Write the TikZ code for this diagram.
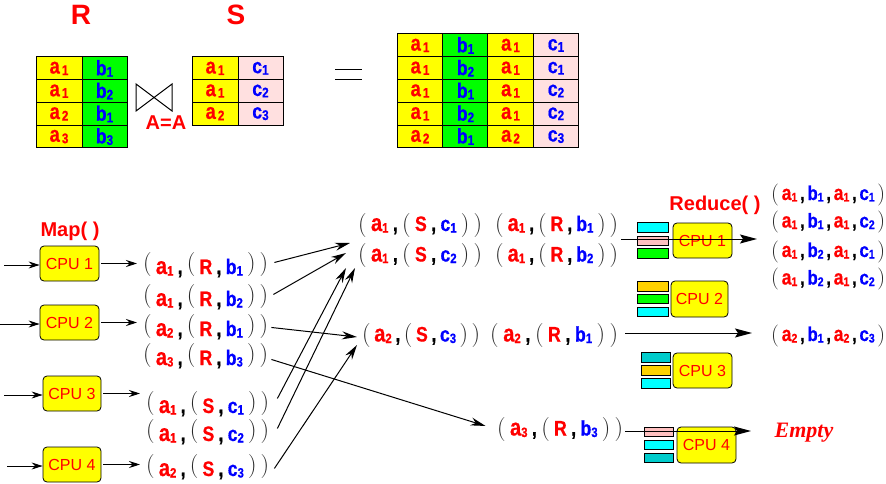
\documentclass[tikz,border=0pt]{standalone}
\usepackage{fontspec}
\newfontfamily\hv{Liberation Sans}
\newfontfamily\hvn[FakeStretch=0.84,FakeBold=0.6]{Liberation Sans Bold}
\newfontfamily\tms{Liberation Serif}
\usetikzlibrary{arrows.meta}
\definecolor{rd}{RGB}{255,0,0}
\definecolor{bl}{RGB}{0,0,255}
\definecolor{yl}{RGB}{255,255,0}
\definecolor{gr}{RGB}{0,255,0}
\definecolor{pk}{RGB}{255,224,224}
\definecolor{pkbar}{RGB}{255,192,192}
\definecolor{cy}{RGB}{0,255,255}
\definecolor{tl}{RGB}{0,204,204}
\definecolor{gd}{RGB}{255,210,0}
\newlength\pr
\setlength\pr{0pt}
\def\sa{24}\def\sl{21}\def\ssb{13.5}\def\sp{24}\def\scm{22}
\newcommand\fs[1]{\fontsize{#1}{#1}\selectfont}
\newcommand\sbx[2]{\raisebox{-1.5pt}{\fs{#1}#2}}
\newcommand\LP{\raisebox{\pr}{\fs{\sp}\rmfamily\mdseries\color{black!85}(}}
\newcommand\RP{\raisebox{\pr}{\fs{\sp}\rmfamily\mdseries\color{black!85})}}
\newcommand\cm{{\fs{\scm}\color{black},}}
\newcommand\ta[1]{{\color{rd}\fs{\sa}a\sbx{\ssb}{#1}}}
\newcommand\tb[1]{{\color{bl}\fs{\sl}b\sbx{\ssb}{#1}}}
\newcommand\tc[1]{{\color{bl}\fs{\sl}c\sbx{\ssb}{#1}}}
\newcommand\tR{{\color{rd}\fs{\sl}R}}
\newcommand\tS{{\color{rd}\fs{\sl}S}}
\newcommand\tup[4]{\hbox to #1{\LP\hfil#2\hfil\cm\hfil\LP\hfil#3\hfil\cm\hfil#4\hfil\RP\hfil\RP}}
\newcommand\rtup[4]{\hbox to 114pt{\LP\hfil#1\hfil\cm\hfil#2\hfil\cm\hfil#3\hfil\cm\hfil#4\hfil\RP}}
\newcommand\ca[1]{{\color{rd}\fs{22}a\hspace{2pt}\sbx{14}{#1}}}
\newcommand\cb[1]{{\color{bl}b\sbx{14}{#1}}}
\newcommand\cc[1]{{\color{bl}c\sbx{14}{#1}}}
\tikzset{
 cell/.style={draw, line width=1pt, minimum width=46pt, minimum height=22.8pt, inner sep=0pt, font=\hvn\fs{21}},
 cpu/.style={draw, line width=0.8pt, fill=yl, rounded corners=4pt, minimum width=59pt, minimum height=35pt, inner sep=0pt, font=\hv\fs{16}, text=rd},
 bar/.style={draw, line width=0.8pt, minimum width=31pt, minimum height=9.5pt, inner sep=0pt},
 tx/.style={inner sep=0pt, font=\hvn},
 mt/.style={tx, anchor=base west, execute at begin node={\setlength{\pr}{3.5pt}}},
 ot/.style={tx, anchor=base west},
 rt/.style={tx, anchor=base west, execute at begin node={\def\sa{21}\def\sl{20}\def\ssb{12.5}\def\sp{22}\def\scm{20}}},
 lbl/.style={inner sep=0pt, anchor=base, text=rd},
 arr/.style={line width=0.9pt, -{Stealth[length=11pt,width=7pt]}},
 marr/.style={line width=1pt, -{Stealth[length=15pt,width=8pt]}},
 rarr/.style={line width=1pt, -{Stealth[length=17pt,width=9pt,inset=3pt]}},
}
\begin{document}
\begin{tikzpicture}[x=1pt,y=-1pt]
\useasboundingbox (0,0) rectangle (886,484);
% ---------- top: relations ----------
\node[lbl, font=\hv\bfseries\fs{28}] (Rl) at (81,25) {R};
\node[lbl, font=\hv\bfseries\fs{28}] (Sl) at (236,25) {S};
\foreach \r/\x/\y in {0/1/1,1/1/2,2/2/1,3/3/3}{
  \node[cell, fill=yl, minimum height=22.75pt] (ra\r) at (59,{68.375+22.75*\r}) {\ca{\x}};
  \node[cell, fill=gr, minimum width=45pt, minimum height=22.75pt] (rb\r) at (104.5,{68.375+22.75*\r}) {\cb{\y}};
}
\foreach \r/\x/\y in {0/1/1,1/1/2,2/2/3}{
  \node[cell, fill=yl, minimum height=22.67pt] (sa\r) at (215,{68.33+22.67*\r}) {\ca{\x}};
  \node[cell, fill=pk, minimum width=45pt, minimum height=22.67pt] (sc\r) at (260.5,{68.33+22.67*\r}) {\cc{\y}};
}
\draw[line width=1pt] (136,84) -- (136,111) -- (172,84) -- (172,111) -- cycle;
\node[lbl, font=\hv\bfseries\fs{20}] (aeq) at (166,130) {A=A};
\draw[line width=1pt] (335,70) -- (362,70) (335,80) -- (362,80);
\foreach \r/\p/\q/\s/\t in {0/1/1/1/1,1/1/2/1/1,2/1/1/1/2,3/1/2/1/2,4/2/1/2/3}{
  \node[cell, fill=yl, minimum width=45.5pt] (ja\r) at (420,{45.4+22.8*\r}) {\ca{\p}};
  \node[cell, fill=gr, minimum width=45.5pt] (jb\r) at (465.5,{45.4+22.8*\r}) {\cb{\q}};
  \node[cell, fill=yl, minimum width=45.5pt] (jc\r) at (510.5,{45.4+22.8*\r}) {\ca{\s}};
  \node[cell, fill=pk, minimum width=45.5pt] (jd\r) at (556,{45.4+22.8*\r}) {\cc{\t}};
}
% ---------- map side ----------
\node[lbl, font=\hv\bfseries\fs{20}] (map) at (70,236) {Map( )};
\node[cpu] (c1) at (69.5,263.5) {CPU 1};
\node[cpu] (c2) at (69.5,322.5) {CPU 2};
\node[cpu, minimum width=58pt] (c3) at (72,393.5) {CPU 3};
\node[cpu, minimum width=58pt] (c4) at (72,464.5) {CPU 4};
\coordinate (i1) at (4,265);
\coordinate (i2) at (0,324);
\coordinate (i3) at (4,395);
\coordinate (i4) at (7,466);
\draw[arr] (i1) -- (i1 -| c1.west);
\draw[arr] (i2) -- (i2 -| c2.west);
\draw[arr] (i3) -- (i3 -| c3.west);
\draw[arr] (i4) -- (i4 -| c4.west);
\node[mt] (t1) at (143,274) {\tup{125pt}{\ta1}{\tR}{\tb1}};
\node[mt] (t2) at (143,306) {\tup{125pt}{\ta1}{\tR}{\tb2}};
\node[mt] (t3) at (143,336) {\tup{125pt}{\ta2}{\tR}{\tb1}};
\node[mt] (t4) at (143,365) {\tup{125pt}{\ta3}{\tR}{\tb3}};
\node[mt] (s1) at (146,413) {\tup{123pt}{\ta1}{\tS}{\tc1}};
\node[mt] (s2) at (146,441) {\tup{123pt}{\ta1}{\tS}{\tc2}};
\node[mt] (s3) at (146,476) {\tup{123pt}{\ta2}{\tS}{\tc3}};
\draw[arr, shorten <=2pt, shorten >=6pt] (c1.east) -- (c1.east -| t1.west);
\draw[arr, shorten <=2pt, shorten >=6pt] (c2.east) -- (c2.east -| t3.west);
\draw[arr, shorten <=2pt, shorten >=6pt] (c3.east) -- (c3.east -| s1.west);
\draw[arr, shorten <=2pt, shorten >=6pt] (c4.east) -- (c4.east -| s3.west);
% ---------- shuffle ----------
\node[ot] (m1a) at (358,231) {\tup{124pt}{\ta1}{\tS}{\tc1}};
\node[ot] (m1b) at (495,231) {\tup{123pt}{\ta1}{\tR}{\tb1}};
\node[ot] (m2a) at (358,261.5) {\tup{124pt}{\ta1}{\tS}{\tc2}};
\node[ot] (m2b) at (495,261.5) {\tup{123pt}{\ta1}{\tR}{\tb2}};
\node[ot] (m3a) at (362,341.5) {\tup{118pt}{\ta2}{\tS}{\tc3}};
\node[ot] (m3b) at (490,341.5) {\tup{128pt}{\ta2}{\tR}{\tb1}};
\node[ot] (x3) at (497,435.5) {\tup{126pt}{\ta3}{\tR}{\tb3}};
\coordinate (e1) at (350,243);
\coordinate (e2) at (346,253);
\coordinate (e3) at (357,337);
\coordinate (e5) at (346,268);
\coordinate (e6) at (355,268);
\coordinate (e7) at (357,345);
\draw[marr] ([shift={(6,-2.5)}]t1.east) -- (e1);
\draw[marr] ([shift={(5,-2.5)}]t2.east) -- (e2);
\draw[marr] ([shift={(3,0.5)}]t3.east) -- (e3);
\draw[marr, shorten >=12pt] ([shift={(3,3.5)}]t4.east) -- (x3.west);
\draw[marr] ([shift={(8,-5.5)}]s1.east) -- (e5);
\draw[marr] ([shift={(8,-3.5)}]s2.east) -- (e6);
\draw[marr] ([shift={(5,1.5)}]s3.east) -- (e7);
% ---------- reduce side ----------
\node[lbl, font=\hv\bfseries\fs{20}] (red) at (715,210) {Reduce( )};
\node[bar, fill=cy] (b11) at (652.5,227.5) {};
\node[bar, fill=pkbar] (b12) at (652.5,241) {};
\node[bar, fill=gr] (b13) at (652.5,253.5) {};
\node[cpu] (d1) at (702.5,240.5) {CPU 1};
\node[bar, fill=gd] (b21) at (652.5,286.5) {};
\node[bar, fill=gr] (b22) at (652.5,299) {};
\node[bar, fill=cy] (b23) at (652.5,312) {};
\node[cpu, minimum width=57pt, minimum height=36pt] (d2) at (699.5,299) {CPU 2};
\node[bar, fill=tl, minimum width=29pt] (b31) at (655.5,357.5) {};
\node[bar, fill=gd, minimum width=29pt] (b32) at (655.5,370.5) {};
\node[bar, fill=cy, minimum width=29pt] (b33) at (655.5,383.5) {};
\node[cpu] (d3) at (702.5,370.5) {CPU 3};
\node[bar, fill=pkbar, minimum width=29pt] (b41) at (658.5,432) {};
\node[bar, fill=cy, minimum width=29pt] (b42) at (658.5,445) {};
\node[bar, fill=tl, minimum width=29pt] (b43) at (658.5,458) {};
\node[cpu, minimum height=36pt] (d4) at (706.5,445) {CPU 4};
\coordinate (r1s) at (621,239);
\coordinate (r1e) at (757,239);
\coordinate (r2s) at (625,333);
\coordinate (r2e) at (752,333);
\coordinate (r3s) at (625,431);
\coordinate (r3e) at (751,431);
\draw[rarr] (r1s) -- (r1e);
\draw[rarr] (r2s) -- (r2e);
\draw[rarr] (r3s) -- (r3e);
\node[rt] (q1) at (771,200) {\rtup{\ta1}{\tb1}{\ta1}{\tc1}};
\node[rt] (q2) at (771,227.5) {\rtup{\ta1}{\tb1}{\ta1}{\tc2}};
\node[rt] (q3) at (771,257) {\rtup{\ta1}{\tb2}{\ta1}{\tc1}};
\node[rt] (q4) at (771,284.5) {\rtup{\ta1}{\tb2}{\ta1}{\tc2}};
\node[rt] (q5) at (771,341) {\rtup{\ta2}{\tb1}{\ta2}{\tc3}};
\node[inner sep=0pt, anchor=base, text=rd, font=\tms\bfseries\itshape\fs{22}] (empty) at (804,437) {Empty};
\end{tikzpicture}
\end{document}
